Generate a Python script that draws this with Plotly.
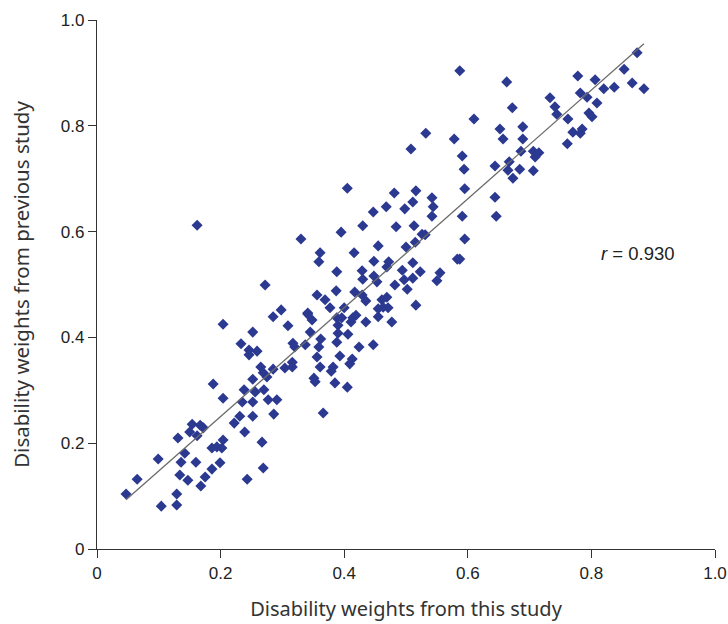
import plotly.graph_objects as go

# Disability weights: this study (x) vs previous study (y)
this_study = [
    0.047, 0.065, 0.099, 0.104, 0.129, 0.129, 0.131, 0.134, 0.147, 0.136,
    0.142, 0.160, 0.168, 0.175, 0.186, 0.199, 0.154, 0.167, 0.150, 0.162,
    0.172, 0.204, 0.186, 0.194, 0.202, 0.243, 0.239, 0.222, 0.231, 0.252,
    0.267, 0.269, 0.286, 0.235, 0.252, 0.277, 0.291, 0.204, 0.238, 0.256,
    0.270, 0.272, 0.204, 0.252, 0.285, 0.298, 0.309, 0.341, 0.233, 0.246,
    0.259, 0.246, 0.317, 0.337, 0.265, 0.285, 0.316, 0.304, 0.316, 0.269,
    0.252, 0.188, 0.275, 0.345, 0.320, 0.162, 0.330, 0.395, 0.455, 0.500,
    0.515, 0.531, 0.361, 0.359, 0.416, 0.448, 0.472, 0.469, 0.511, 0.388,
    0.429, 0.430, 0.448, 0.453, 0.494, 0.497, 0.511, 0.523, 0.482, 0.502,
    0.356, 0.387, 0.417, 0.429, 0.435, 0.369, 0.377, 0.461, 0.469, 0.463,
    0.455, 0.471, 0.516, 0.400, 0.341, 0.348, 0.388, 0.396, 0.390, 0.414,
    0.419, 0.411, 0.435, 0.455, 0.477, 0.390, 0.406, 0.362, 0.359, 0.388,
    0.424, 0.447, 0.356, 0.393, 0.413, 0.409, 0.361, 0.382, 0.379, 0.351,
    0.353, 0.385, 0.405, 0.366, 0.405, 0.481, 0.468, 0.447, 0.430, 0.484,
    0.516, 0.511, 0.595, 0.542, 0.544, 0.542, 0.644, 0.498, 0.591, 0.646,
    0.513, 0.526, 0.595, 0.583, 0.587, 0.555, 0.550, 0.587, 0.663, 0.733,
    0.741, 0.744, 0.672, 0.610, 0.532, 0.652, 0.689, 0.578, 0.657, 0.689,
    0.508, 0.591, 0.686, 0.706, 0.709, 0.715, 0.667, 0.644, 0.665, 0.684,
    0.706, 0.673, 0.594, 0.874, 0.778, 0.806, 0.853, 0.866, 0.885, 0.837,
    0.820, 0.782, 0.793, 0.809, 0.762, 0.796, 0.801, 0.770, 0.782, 0.785,
    0.761,
]
previous_study = [
    0.104, 0.132, 0.170, 0.081, 0.083, 0.104, 0.210, 0.140, 0.130, 0.164,
    0.181, 0.164, 0.119, 0.136, 0.151, 0.163, 0.236, 0.234, 0.221, 0.214,
    0.229, 0.206, 0.191, 0.193, 0.191, 0.132, 0.221, 0.238, 0.251, 0.251,
    0.202, 0.153, 0.255, 0.278, 0.278, 0.282, 0.282, 0.285, 0.301, 0.297,
    0.301, 0.499, 0.425, 0.410, 0.439, 0.452, 0.422, 0.444, 0.388, 0.376,
    0.374, 0.367, 0.389, 0.386, 0.344, 0.340, 0.353, 0.342, 0.344, 0.333,
    0.321, 0.312, 0.325, 0.410, 0.382, 0.612, 0.586, 0.599, 0.573, 0.571,
    0.580, 0.594, 0.560, 0.543, 0.560, 0.544, 0.543, 0.533, 0.541, 0.524,
    0.526, 0.510, 0.516, 0.505, 0.527, 0.509, 0.512, 0.524, 0.499, 0.491,
    0.480, 0.488, 0.486, 0.480, 0.469, 0.471, 0.456, 0.471, 0.476, 0.457,
    0.454, 0.456, 0.461, 0.456, 0.446, 0.433, 0.437, 0.437, 0.423, 0.437,
    0.442, 0.429, 0.429, 0.439, 0.429, 0.408, 0.406, 0.397, 0.382, 0.391,
    0.382, 0.386, 0.363, 0.365, 0.359, 0.350, 0.344, 0.344, 0.336, 0.323,
    0.316, 0.314, 0.306, 0.257, 0.682, 0.673, 0.647, 0.637, 0.611, 0.609,
    0.677, 0.656, 0.681, 0.664, 0.647, 0.629, 0.665, 0.643, 0.629, 0.629,
    0.611, 0.595, 0.586, 0.548, 0.548, 0.522, 0.507, 0.904, 0.883, 0.853,
    0.836, 0.822, 0.834, 0.813, 0.786, 0.794, 0.798, 0.775, 0.775, 0.775,
    0.756, 0.743, 0.752, 0.752, 0.741, 0.749, 0.732, 0.724, 0.716, 0.718,
    0.715, 0.701, 0.718, 0.938, 0.894, 0.887, 0.907, 0.881, 0.870, 0.873,
    0.870, 0.862, 0.854, 0.843, 0.813, 0.824, 0.817, 0.788, 0.786, 0.794,
    0.766,
]

# Regression line end points
fit_x = [0.047, 0.885]
fit_y = [0.093, 0.955]

tick_vals = [0, 0.2, 0.4, 0.6, 0.8, 1.0]
tick_text = ["0", "0.2", "0.4", "0.6", "0.8", "1.0"]

r_label = "<i>r</i> = 0.930"
r_pos = (0.875, 0.558)

fig = go.Figure()
fig.add_trace(go.Scatter(
    x=this_study, y=previous_study, mode="markers",
    marker=dict(symbol="diamond", size=8.5, color="#2B3990", line=dict(width=0)),
    showlegend=False,
))
fig.add_trace(go.Scatter(
    x=fit_x, y=fit_y, mode="lines",
    line=dict(color="#6b6b6b", width=1.3),
    showlegend=False,
))

axis_common = dict(
    range=[0, 1], tickvals=tick_vals, ticktext=tick_text,
    showline=True, linecolor="#333333", linewidth=1.3,
    ticks="outside", ticklen=8, tickwidth=1.3, tickcolor="#333333",
    showgrid=False, zeroline=False,
    tickfont=dict(family="Liberation Sans, Arial", size=17, color="#222222"),
    automargin=False,
)

fig.update_layout(
    width=728, height=624,
    margin=dict(l=97, r=13, t=20, b=75),
    paper_bgcolor="white", plot_bgcolor="white",
    xaxis=dict(**axis_common,
               title=dict(text="Disability weights from this study",
                          font=dict(family="Noto Sans", size=20, color="#333333"),
                          standoff=20)),
    yaxis=dict(**axis_common,
               title=dict(text="Disability weights from previous study",
                          font=dict(family="Noto Sans", size=20.5, color="#333333"),
                          standoff=25)),
    annotations=[dict(x=r_pos[0], y=r_pos[1], xref="x", yref="y",
                      text=r_label, showarrow=False,
                      font=dict(family="Liberation Sans, Arial", size=18.5, color="#222222"))],
)

fig.write_html(
    "out.html",
    config={"displayModeBar": False},
    post_script="document.body.style.margin='0';document.body.style.overflow='hidden';",
)
